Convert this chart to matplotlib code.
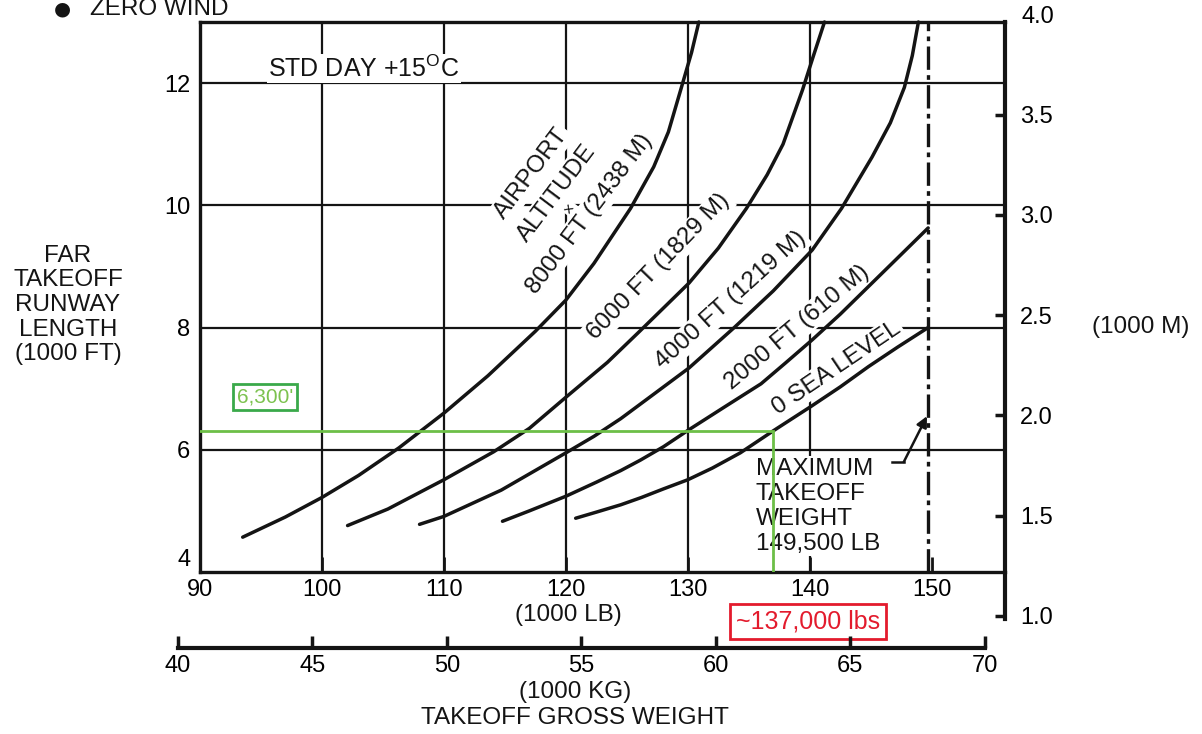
import matplotlib
matplotlib.use('Agg')
import matplotlib.pyplot as plt

plt.rcParams['font.family'] = ['Liberation Sans', 'DejaVu Sans']
plt.rcParams['mathtext.fontset'] = 'custom'
plt.rcParams['mathtext.rm'] = 'Liberation Sans'

# ---------------- data ----------------
lb_ticks = [90, 100, 110, 120, 130, 140, 150]
kg_ticks = [40, 45, 50, 55, 60, 65, 70]
ft_ticks = [6, 8, 10, 12]
ft_bottom_tick = 4
m_ticks = [1.0, 1.5, 2.0, 2.5, 3.0, 3.5]
m_top_tick = 4.0
grid_lb = [100, 110, 120, 130, 140]
grid_ft = [6, 8, 10, 12]

w_8000 = [93.5, 97.0, 100.0, 103.0, 106.3, 110.0, 113.6, 117.5, 120.0, 122.3, 125.3, 127.2,
          128.4, 129.5, 130.3, 130.9]
r_8000 = [4.57, 4.90, 5.22, 5.58, 6.03, 6.60, 7.21, 7.94, 8.45, 9.05, 9.95, 10.63,
          11.20, 11.95, 12.50, 13.0]
w_6000 = [102.1, 105.4, 110.0, 114.1, 117.0, 120.0, 123.4, 126.0, 128.0, 130.1, 132.5, 134.8,
          136.5, 137.8, 139.4, 140.3, 141.2]
r_6000 = [4.76, 5.03, 5.51, 5.97, 6.35, 6.86, 7.43, 7.93, 8.32, 8.73, 9.30, 9.95,
          10.50, 11.00, 11.89, 12.45, 13.0]
w_4000 = [108.0, 110.0, 114.7, 120.0, 122.3, 124.5, 127.0, 130.1, 133.8, 137.0, 140.2, 142.6,
          145.1, 146.6, 147.75, 148.4, 148.9]
r_4000 = [4.78, 4.91, 5.34, 5.95, 6.22, 6.51, 6.88, 7.34, 8.00, 8.60, 9.27, 9.95,
          10.79, 11.35, 11.93, 12.45, 13.0]
w_2000 = [114.8, 117.0, 120.0, 122.5, 124.5, 126.1, 128.0, 130.1, 133.0, 136.0, 138.0, 140.2,
          142.5, 144.8, 147.2, 149.7]
r_2000 = [4.83, 5.00, 5.24, 5.47, 5.66, 5.83, 6.05, 6.33, 6.70, 7.08, 7.42, 7.80,
          8.22, 8.67, 9.14, 9.63]
w_0 = [120.8, 122.5, 124.5, 126.2, 128.0, 130.0, 132.0, 134.3, 137.0, 140.1, 142.5, 144.8,
       147.2, 149.7]
r_0 = [4.88, 4.98, 5.10, 5.22, 5.36, 5.51, 5.70, 5.95, 6.31, 6.71, 7.03, 7.36,
       7.68, 8.00]

max_tow_klb = 149.7
example_len_kft = 6.3
example_wt_klb = 137.0

LB_PER_KG = 2.20462
FT_PER_M = 3.28084

# ---------------- figure ----------------
W, H = 1202, 734
fig = plt.figure(figsize=(W / 100, H / 100), dpi=100)


def fx(px):
    return px / W


def fy(py):
    return 1 - py / H


ax_l, ax_r, ax_t, ax_b = 200, 1005, 22, 572
xlim = (90, 156.0)
ylim = (4, 13)
ax = fig.add_axes([fx(ax_l), fy(ax_b), (ax_r - ax_l) / W, (ax_b - ax_t) / H])
ax.set_xlim(*xlim)
ax.set_ylim(*ylim)

INK = '#141414'
FS = 17.5     # general lettering
TFS = 17      # tick numbers

for s in ['left', 'top', 'bottom']:
    ax.spines[s].set_linewidth(2.4)
    ax.spines[s].set_color(INK)
ax.spines['right'].set_visible(False)

ax.set_xticks(lb_ticks)
ax.set_xticklabels([str(t) for t in lb_ticks])
ax.tick_params(axis='x', direction='in', length=11, width=2, color=INK,
               labelsize=TFS, pad=5, top=False)
ax.set_yticks(ft_ticks)
ax.set_yticklabels([str(t) for t in ft_ticks])
ax.tick_params(axis='y', direction='in', length=0, labelsize=TFS, pad=7)
ax.annotate(str(ft_bottom_tick), xy=(0, ft_bottom_tick), xycoords=('axes fraction', 'data'),
            xytext=(-7, 1), textcoords='offset points', ha='right', va='bottom',
            fontsize=TFS, annotation_clip=False)

# grid lines
for g in grid_lb:
    ax.axvline(g, color=INK, lw=1.6, zorder=1)
for g in grid_ft:
    ax.axhline(g, color=INK, lw=1.6, zorder=1)

# max takeoff weight dash-dot
ax.axvline(max_tow_klb, color=INK, lw=2.4, dashes=(7, 1.6, 1.4, 1.6), zorder=2)

# curves
for w, r in [(w_8000, r_8000), (w_6000, r_6000), (w_4000, r_4000), (w_2000, r_2000), (w_0, r_0)]:
    ax.plot(w, r, color=INK, lw=2.5, solid_capstyle='round', solid_joinstyle='round',
            zorder=4, clip_on=False)

# curve labels
bb = dict(facecolor='white', edgecolor='none', pad=1.5)
lab_kw = dict(fontsize=FS, ha='center', va='center', rotation_mode='anchor',
              bbox=bb, zorder=3, color=INK)
ax.text(117.2, 10.52, 'AIRPORT', rotation=53, **lab_kw)
ax.text(119.25, 10.20, 'ALTITUDE', rotation=53, **lab_kw)
ax.text(120.3, 9.95, '\u00d7', rotation=53, **{**lab_kw, 'fontsize': 12})
ax.text(121.9, 9.86, '8000 FT (2438 M)', rotation=53, **lab_kw)
ax.text(127.6, 8.99, '6000 FT (1829 M)', rotation=46, **lab_kw)
ax.text(133.5, 8.45, '4000 FT (1219 M)', rotation=42, **lab_kw)
ax.text(138.96, 8.0, '2000 FT (610 M)', rotation=40, **lab_kw)
ax.text(142.2, 7.34, '0 SEA LEVEL', rotation=34, **lab_kw)

ax.text(95.6, 12.24, r'STD DAY +15$^{\mathrm{O}}$C', fontsize=18, ha='left', va='center',
        bbox=dict(facecolor='white', edgecolor='none', pad=1), zorder=3, color=INK)

# maximum takeoff weight note
ax.text(135.57, 5.87, 'MAXIMUM\nTAKEOFF\nWEIGHT\n149,500 LB', fontsize=FS, ha='left', va='top',
        linespacing=1.18, bbox=dict(facecolor='white', edgecolor='none', pad=1), zorder=3, color=INK)
ax.plot([146.7, 147.7], [5.80, 5.80], color=INK, lw=1.8, zorder=4)
ax.annotate('', xy=(max_tow_klb - 0.1, 6.55), xytext=(147.7, 5.80),
            arrowprops=dict(arrowstyle='-|>', color=INK, lw=1.8, mutation_scale=16,
                            shrinkA=0, shrinkB=0), zorder=4)

# example (green) read-off lines
GREEN = '#6dbf47'
ax.plot([xlim[0], example_wt_klb, example_wt_klb], [example_len_kft, example_len_kft, ylim[0]],
        color=GREEN, lw=2, zorder=5, solid_joinstyle='miter')
ax.text(95.35, 6.86, "6,300'", fontsize=15, color='#7cc24f', ha='center', va='center', zorder=6,
        bbox=dict(boxstyle='square,pad=0.18', facecolor='white', edgecolor='#3aa94a', lw=2))
ax.text(139.85, 3.19, '~137,000 lbs', fontsize=18, color='#e31b2d', ha='center', va='center',
        zorder=6, clip_on=False,
        bbox=dict(boxstyle='square,pad=0.22', facecolor='white', edgecolor='#e31b2d', lw=2))

# ---------------- metres axis (right) ----------------
ax_h = ax_b - ax_t
m_lo, m_hi = m_ticks[0], ylim[1] / FT_PER_M
m_bottom_px = ax_b + (ylim[0] - m_lo * FT_PER_M) / (ylim[1] - ylim[0]) * ax_h + 3
axm = fig.add_axes([fx(ax_l), fy(m_bottom_px), (ax_r - ax_l) / W, (m_bottom_px - ax_t) / H])
axm.patch.set_visible(False)
axm.set_ylim(m_lo - 3 / ax_h * (ylim[1] - ylim[0]) / FT_PER_M, m_hi)
axm.set_xticks([])
for s in ['left', 'top', 'bottom']:
    axm.spines[s].set_visible(False)
axm.spines['right'].set_linewidth(3)
axm.spines['right'].set_color(INK)
axm.yaxis.tick_right()
axm.set_yticks(m_ticks)
axm.set_yticklabels(['%.1f' % t for t in m_ticks])
axm.tick_params(axis='y', direction='in', length=7, width=2.5, color=INK, labelsize=TFS, pad=11)
axm.annotate('%.1f' % m_top_tick, xy=(1, m_top_tick), xycoords=('axes fraction', 'data'),
             xytext=(12, -2), textcoords='offset points', ha='left', va='center',
             fontsize=TFS, annotation_clip=False)

# ---------------- kg axis (bottom) ----------------
sx = (ax_r - ax_l) / (xlim[1] - xlim[0])
kg_l_px = ax_l + (kg_ticks[0] * LB_PER_KG - xlim[0]) * sx
kg_r_px = ax_l + (kg_ticks[-1] * LB_PER_KG - xlim[0]) * sx
kg_y_px = 648
axk = fig.add_axes([fx(kg_l_px), fy(kg_y_px), (kg_r_px - kg_l_px) / W, 0.0001])
axk.patch.set_visible(False)
axk.set_xlim(kg_ticks[0], kg_ticks[-1])
axk.set_yticks([])
for s in ['left', 'top', 'right']:
    axk.spines[s].set_visible(False)
axk.spines['bottom'].set_linewidth(3)
axk.spines['bottom'].set_color(INK)
axk.set_xticks(kg_ticks)
axk.set_xticklabels([str(t) for t in kg_ticks])
axk.tick_params(axis='x', direction='in', length=9, width=2.5, color=INK, labelsize=TFS, pad=5)

# ---------------- texts ----------------
fig.text(fx(568), fy(615), '(1000 LB)', fontsize=FS, ha='center', va='center', color=INK)
fig.text(fx(575), fy(692), '(1000 KG)', fontsize=FS, ha='center', va='center', color=INK)
fig.text(fx(575), fy(718), 'TAKEOFF GROSS WEIGHT', fontsize=FS, ha='center', va='center', color=INK)
fig.text(fx(68), fy(305), 'FAR\nTAKEOFF\nRUNWAY\nLENGTH\n(1000 FT)', fontsize=FS, ha='center',
         va='center', multialignment='center', linespacing=1.15, color=INK)
fig.text(fx(1141), fy(327), '(1000 M)', fontsize=FS, ha='center', va='center', color=INK)
fig.text(fx(54), fy(9), '\u25cf', fontsize=14, family='DejaVu Sans', ha='left', va='center', color=INK)
fig.text(fx(90), fy(9), 'ZERO WIND', fontsize=FS, ha='left', va='center', color=INK)

fig.savefig('out.png', dpi=100, facecolor='white')
